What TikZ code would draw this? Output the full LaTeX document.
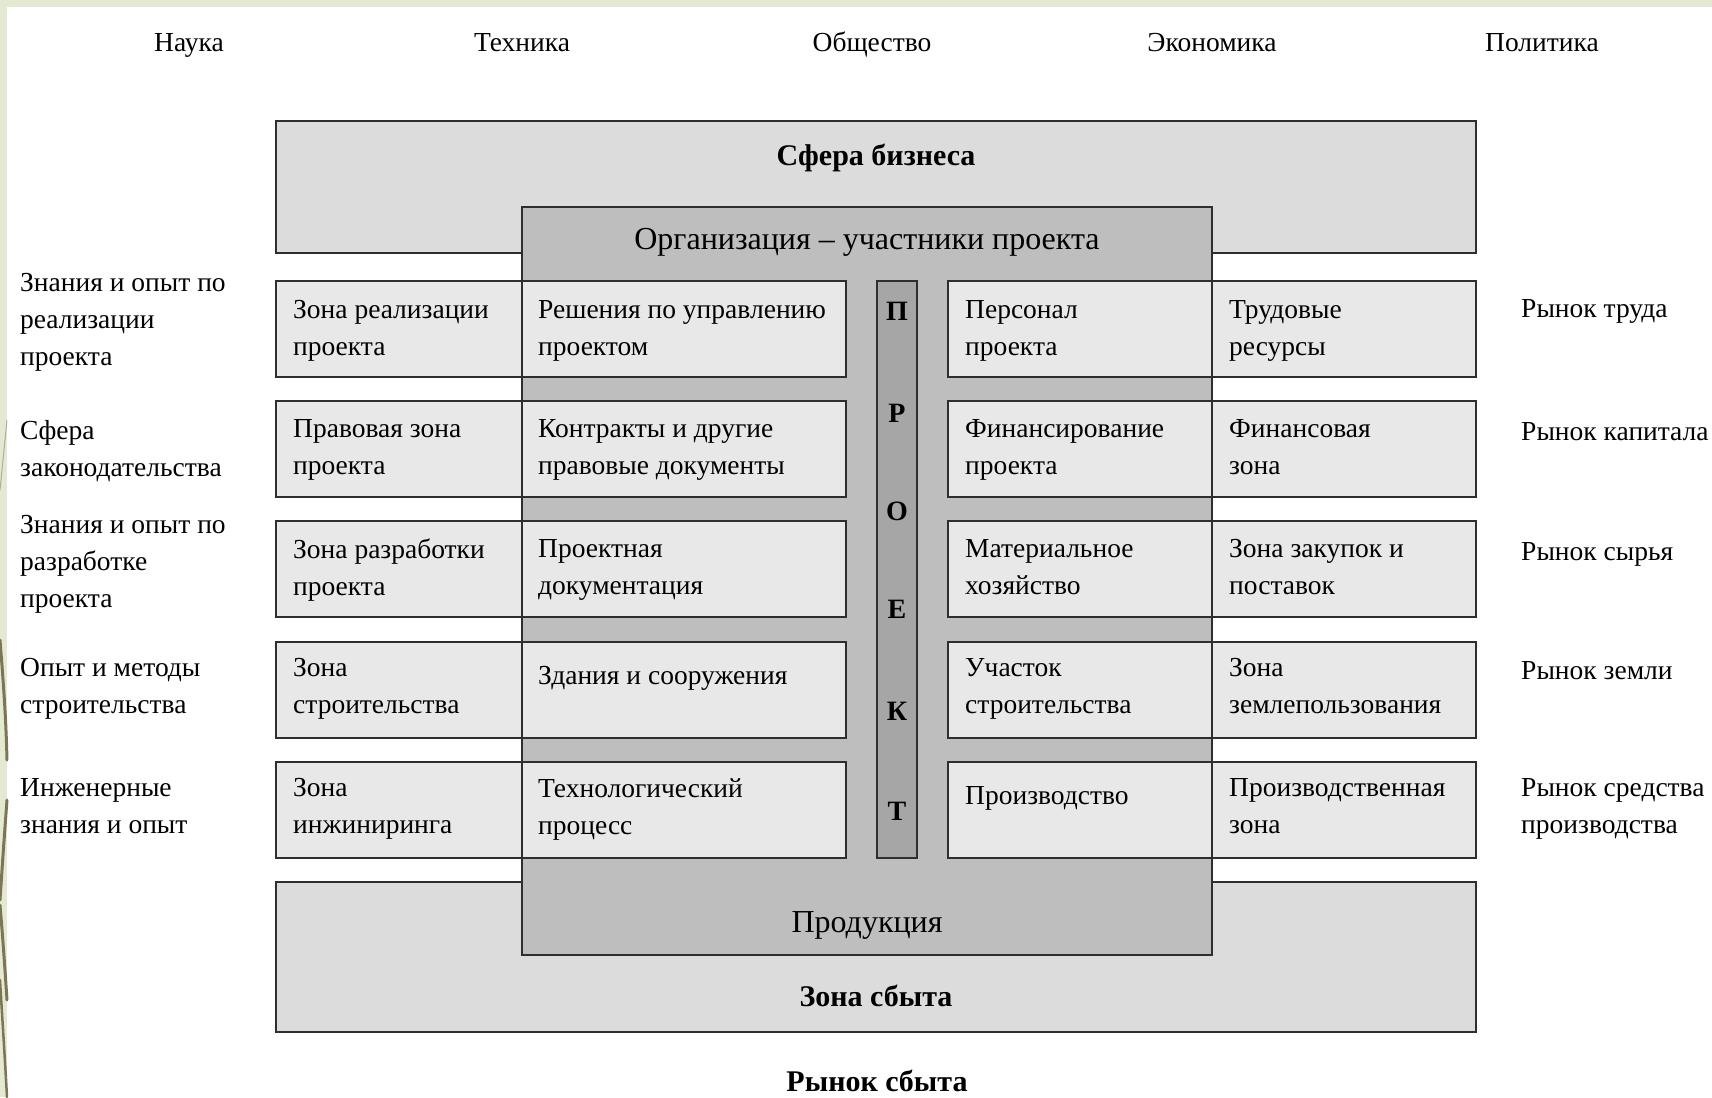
\documentclass[tikz,border=0pt]{standalone}
\usepackage{fontspec}
\setmainfont{Liberation Serif}
\definecolor{outerfill}{HTML}{DCDCDC}
\definecolor{orgfill}{HTML}{BEBEBE}
\definecolor{cellfill}{HTML}{E8E8E8}
\definecolor{barfill}{HTML}{A6A6A6}
\definecolor{edge}{HTML}{2E2E2E}
\definecolor{slidegreen}{HTML}{E4EAD2}
\definecolor{olivedeco}{HTML}{7D7556}
\begin{document}
\begin{tikzpicture}[x=1pt,y=-1pt,
  panel/.style={draw=edge, line width=2pt, inner sep=0pt, outer sep=0pt, anchor=north west},
  outerbox/.style={panel, fill=outerfill},
  orgbox/.style={panel, fill=orgfill},
  cell/.style={panel, fill=cellfill, minimum height=96pt},
  barbox/.style={panel, fill=barfill},
  txt/.style={anchor=north west, inner sep=0pt, align=left, font=\fontsize{27.5}{37}\selectfont, execute at begin node=\strut},
  lbl/.style={anchor=base, inner sep=0pt, font=\fontsize{27.5}{37}\selectfont},
  head/.style={anchor=base, inner sep=0pt, font=\fontsize{32}{38}\selectfont},
  bold/.style={anchor=base, inner sep=0pt, font=\fontsize{30}{36}\selectfont\bfseries},
  letter/.style={anchor=center, inner sep=0pt, font=\fontsize{28}{30}\selectfont\bfseries},
  deco/.style={draw=olivedeco, line cap=round}
]
\useasboundingbox (0,0) rectangle (1712,1097);
% slide background
\fill[white] (0,0) rectangle (1712,1097);
\fill[slidegreen] (0,0) rectangle (1712,7);
\fill[slidegreen] (0,0) rectangle (7,1097);
\draw[deco, line width=1pt, draw opacity=0.5] (7,420) -- (0,490);
\draw[deco, line width=3pt] (0,640) .. controls (4,690) and (6,720) .. (7,760);
\draw[deco, line width=3pt] (7,800) .. controls (4,840) and (2,870) .. (0,900);
\draw[deco, line width=3pt] (0,905) .. controls (3,940) and (5,970) .. (7,1000);
\draw[deco, line width=2.5pt] (0,980) .. controls (3,1030) and (5,1060) .. (7,1097);

% top labels
\node[lbl] (nauka) at (189,52) {Наука};
\node[lbl] (tech) at (522,52) {Техника};
\node[lbl] (obsh) at (872,52) {Общество};
\node[lbl] (econ) at (1212,52) {Экономика};
\node[lbl] (polit) at (1542,52) {Политика};

% outer boxes
\node[outerbox, minimum width=1200pt, minimum height=132pt] (sfera) at (276,121) {};
\node[outerbox, minimum width=1200pt, minimum height=150pt] (sbyt) at (276,882) {};
\node[orgbox, minimum width=690pt, minimum height=748pt] (org) at (522,207) {};

\node[bold] (sferat) at ([yshift=-44pt]sfera.north) {Сфера бизнеса};
\node[bold] (sbytt) at ([yshift=26pt]sbyt.south) {Зона сбыта};
\node[head] (orgt) at ([yshift=-42pt]org.north) {Организация – участники проекта};
\node[head] (prodt) at ([yshift=23pt]org.south) {Продукция};
\node[bold] (rynok) at (877,1091) {Рынок сбыта};

% rows of cells
% column A: 276-522, B: 522-846, C: 948-1212, D: 1212-1476
\foreach \r/\y in {1/281,2/401,3/521,4/642,5/762}{
  \node[cell, minimum width=246pt] (a\r) at (276,\y) {};
  \node[cell, minimum width=324pt] (b\r) at (522,\y) {};
  \node[cell, minimum width=264pt] (c\r) at (948,\y) {};
  \node[cell, minimum width=264pt] (d\r) at (1212,\y) {};
}
\node[barbox, minimum width=40pt, minimum height=577pt] (bar) at (877,281) {};
\foreach \l/\y [count=\i] in {П/311,Р/413,О/511,Е/609,К/711,Т/811}{
  \node[letter] (let\i) at (897,\y) {\l};
}

% cell texts
\node[txt] (a1t) at ([xshift=17pt,yshift=-19pt]a1.north west) {Зона реализации\\проекта};
\node[txt] (b1t) at ([xshift=16pt,yshift=-19pt]b1.north west) {Решения по управлению\\проектом};
\node[txt] (c1t) at ([xshift=17pt,yshift=-19pt]c1.north west) {Персонал\\проекта};
\node[txt] (d1t) at ([xshift=17pt,yshift=-19pt]d1.north west) {Трудовые\\ресурсы};

\node[txt] (a2t) at ([xshift=17pt,yshift=-18pt]a2.north west) {Правовая зона\\проекта};
\node[txt] (b2t) at ([xshift=16pt,yshift=-18pt]b2.north west) {Контракты и другие\\правовые документы};
\node[txt] (c2t) at ([xshift=17pt,yshift=-18pt]c2.north west) {Финансирование\\проекта};
\node[txt] (d2t) at ([xshift=17pt,yshift=-18pt]d2.north west) {Финансовая\\зона};

\node[txt] (a3t) at ([xshift=17pt,yshift=-18pt]a3.north west) {Зона разработки\\проекта};
\node[txt] (b3t) at ([xshift=16pt,yshift=-18pt]b3.north west) {Проектная\\документация};
\node[txt] (c3t) at ([xshift=17pt,yshift=-18pt]c3.north west) {Материальное\\хозяйство};
\node[txt] (d3t) at ([xshift=17pt,yshift=-18pt]d3.north west) {Зона закупок и\\поставок};

\node[txt] (a4t) at ([xshift=17pt,yshift=-16pt]a4.north west) {Зона\\строительства};
\node[txt] (b4t) at ([xshift=16pt,yshift=-16pt]b4.north west) {Здания и сооружения};
\node[txt] (c4t) at ([xshift=17pt,yshift=-16pt]c4.north west) {Участок\\строительства};
\node[txt] (d4t) at ([xshift=17pt,yshift=-16pt]d4.north west) {Зона\\землепользования};

\node[txt] (a5t) at ([xshift=17pt,yshift=-16pt]a5.north west) {Зона\\инжиниринга};
\node[txt] (b5t) at ([xshift=16pt,yshift=-16pt]b5.north west) {Технологический\\процесс};
\node[txt] (c5t) at ([xshift=17pt,yshift=-16pt]c5.north west) {Производство};
\node[txt] (d5t) at ([xshift=17pt,yshift=-16pt]d5.north west) {Производственная\\зона};

% left labels
\node[txt] (l1) at (20,273) {Знания и опыт по\\реализации\\проекта};
\node[txt] (l2) at (20,420) {Сфера\\законодательства};
\node[txt] (l3) at (20,515) {Знания и опыт по\\разработке\\проекта};
\node[txt] (l4) at (20,658) {Опыт и методы\\строительства};
\node[txt] (l5) at (20,778) {Инженерные\\знания и опыт};

% right labels
\node[txt] (r1) at (1521,291) {Рынок труда};
\node[txt] (r2) at (1521,414) {Рынок капитала};
\node[txt] (r3) at (1521,534) {Рынок сырья};
\node[txt] (r4) at (1521,653) {Рынок земли};
\node[txt] (r5) at (1521,778) {Рынок средства\\производства};
\end{tikzpicture}
\end{document}
